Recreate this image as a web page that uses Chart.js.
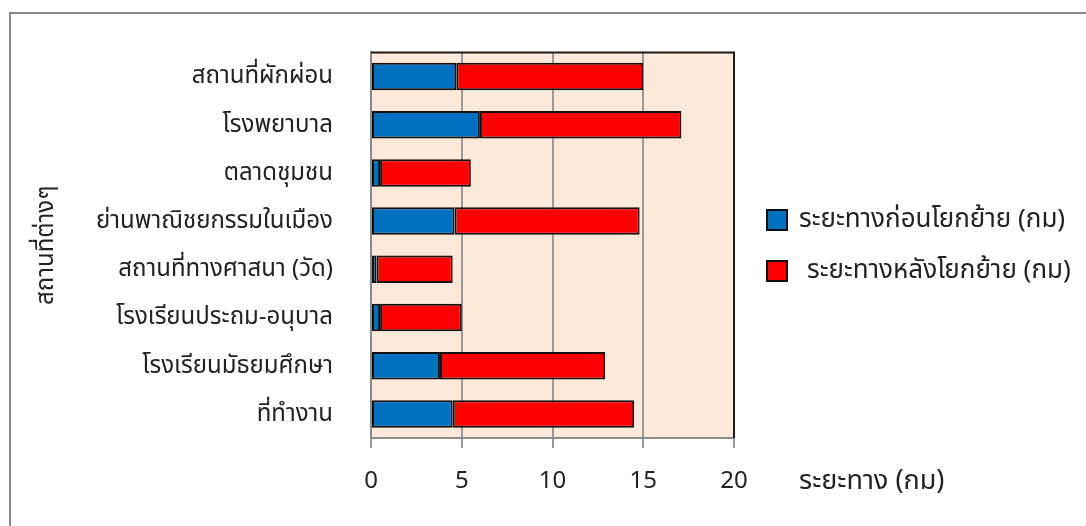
<!DOCTYPE html>
<html>
<head>
<meta charset="utf-8">
<script src="https://cdn.jsdelivr.net/npm/chart.js@4"></script>
<style>
  html, body { margin: 0; padding: 0; background: #ffffff; }
  #wrap { width: 1086px; height: 526px; position: relative; }
</style>
</head>
<body>
<div id="wrap"><canvas id="c" width="1086" height="526"></canvas></div>
<script>
// Places (top to bottom) and distances in km
const categories = [
  'สถานที่ผักผ่อน',
  'โรงพยาบาล',
  'ตลาดชุมชน',
  'ย่านพาณิชยกรรมในเมือง',
  'สถานที่ทางศาสนา (วัด)',
  'โรงเรียนประถม-อนุบาล',
  'โรงเรียนมัธยมศึกษา',
  'ที่ทำงาน'
];
const beforeMove = [4.7, 6.0, 0.5, 4.6, 0.3, 0.5, 3.8, 4.5];
const afterMove  = [10.3, 11.1, 5.0, 10.2, 4.2, 4.5, 9.1, 10.0];
const seriesNames = ['ระยะทางก่อนโยกย้าย (กม)', ' ระยะทางหลังโยกย้าย (กม)'];
const xTicks = [0, 5, 10, 15, 20];
const xAxisTitle = 'ระยะทาง (กม)';
const yAxisTitle = 'สถานที่ต่างๆ';

const FONT = "'Noto Sans', 'Noto Sans Thai', 'DejaVu Sans', sans-serif";
const TEXT = '#222222';
const PLOT = { left: 371, right: 734, top: 46, bottom: 438 };
const PAD_LEFT = 32;

// Outer frame and plot background
const framePlugin = {
  id: 'frame',
  beforeDraw(chart) {
    const { ctx, chartArea: a } = chart;
    ctx.save();
    ctx.fillStyle = '#ffffff';
    ctx.fillRect(0, 0, chart.width, chart.height);
    ctx.strokeStyle = '#8a8a8a';
    ctx.lineWidth = 2;
    ctx.strokeRect(10, 13, chart.width + 20, chart.height + 20);
    ctx.fillStyle = '#FDE9D9';
    ctx.fillRect(a.left, a.top, a.right - a.left, a.bottom - a.top);
    ctx.restore();
  },
  afterDatasetsDraw(chart) {
    // dark top and right edges of the plot
    const { ctx, chartArea: a } = chart;
    ctx.save();
    ctx.strokeStyle = '#1a1a1a';
    ctx.lineWidth = 2;
    ctx.beginPath();
    ctx.moveTo(a.left, a.top);
    ctx.lineTo(a.right, a.top);
    ctx.lineTo(a.right, a.bottom);
    ctx.stroke();
    ctx.restore();
  }
};

// Legend at the right and the x-axis title beside the tick labels
const sideTextPlugin = {
  id: 'sideText',
  afterDraw(chart) {
    const { ctx } = chart;
    ctx.save();
    ctx.fillStyle = TEXT;
    ctx.textBaseline = 'middle';
    ctx.textAlign = 'left';
    ctx.font = '27px ' + FONT;
    ctx.fillText(xAxisTitle, 799, 481);

    ctx.font = '26px ' + FONT;
    const rows = [220, 271];
    const textX = [799, 807];
    chart.data.datasets.forEach((ds, i) => {
      const y = rows[i];
      ctx.fillStyle = ds.backgroundColor;
      ctx.fillRect(767, y - 10, 20, 20);
      ctx.strokeStyle = '#111111';
      ctx.lineWidth = 2;
      ctx.strokeRect(767, y - 10, 20, 20);
      ctx.fillStyle = TEXT;
      ctx.fillText(ds.label.trim(), textX[i], y);
    });
    ctx.restore();
  }
};

new Chart(document.getElementById('c'), {
  type: 'bar',
  data: {
    labels: categories,
    datasets: [
      { label: seriesNames[0], data: beforeMove, backgroundColor: '#0070C0',
        borderColor: '#111111', borderWidth: 2, borderSkipped: false },
      { label: seriesNames[1], data: afterMove, backgroundColor: '#FF0000',
        borderColor: '#111111', borderWidth: 2, borderSkipped: false }
    ]
  },
  options: {
    indexAxis: 'y',
    responsive: false,
    animation: false,
    devicePixelRatio: 1,
    layout: { padding: { left: PAD_LEFT, right: 1086 - PLOT.right, top: PLOT.top, bottom: 0 } },
    datasets: { bar: { categoryPercentage: 1.0, barPercentage: 0.57 } },
    plugins: {
      legend: { display: false },
      tooltip: { enabled: false }
    },
    scales: {
      x: {
        stacked: true,
        min: 0, max: 20,
        afterBuildTicks(scale) { scale.ticks = xTicks.map(v => ({ value: v })); },
        afterFit(scale) { scale.height = 526 - PLOT.bottom; },
        grid: { color: '#9a9a9a', lineWidth: 2, drawTicks: true, tickLength: 10, tickColor: '#9a9a9a' },
        border: { display: true, color: '#8a8a8a', width: 2 },
        ticks: { color: TEXT, font: { family: FONT, size: 24 }, padding: 19 }
      },
      y: {
        stacked: true,
        afterFit(scale) { scale.width = PLOT.left - PAD_LEFT; },
        grid: { display: false, drawTicks: false },
        border: { display: true, color: '#8a8a8a', width: 2 },
        ticks: { color: TEXT, font: { family: FONT, size: 24 }, padding: 38 },
        title: { display: true, text: yAxisTitle, color: TEXT, font: { family: FONT, size: 24 }, padding: 0 }
      }
    }
  },
  plugins: [framePlugin, sideTextPlugin]
});
</script>
</body>
</html>
